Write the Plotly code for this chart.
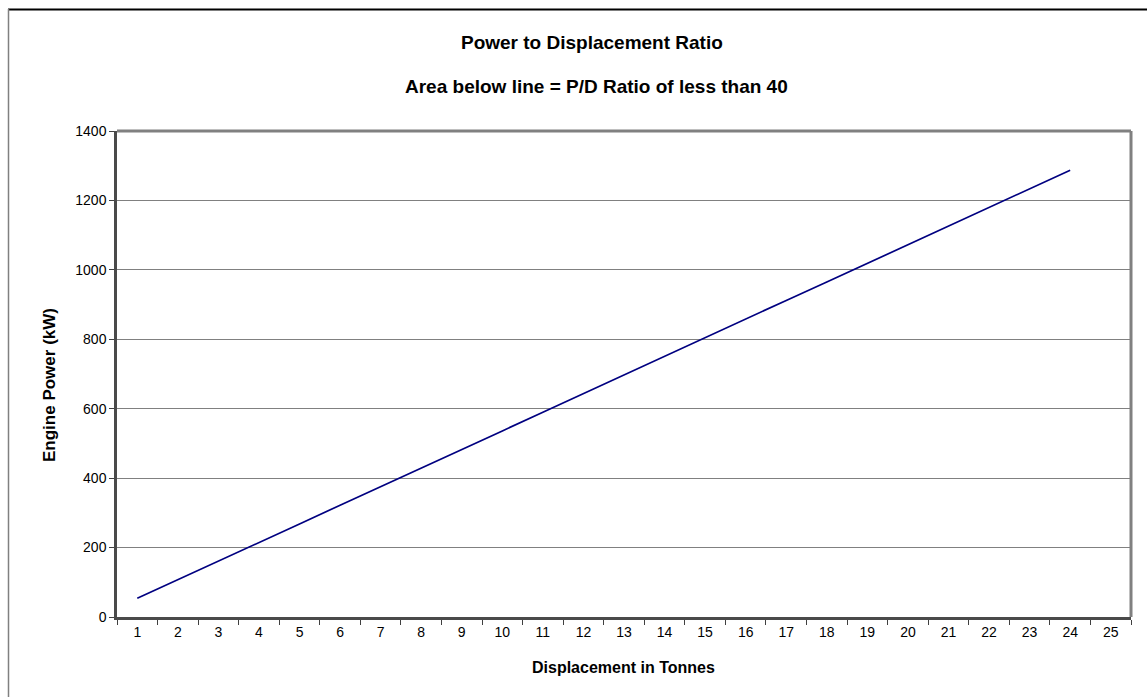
import plotly.graph_objects as go

categories = [str(i) for i in range(1, 26)]
displacement = [str(i) for i in range(1, 25)]
power_kw = [54, 107, 161, 215, 268, 322, 375, 429, 483, 536, 590, 644,
            697, 751, 805, 858, 912, 965, 1019, 1073, 1126, 1180, 1234, 1287]
y_ticks = [0, 200, 400, 600, 800, 1000, 1200, 1400]

OFF = 0  # body margin removed by post_script below
W, H = 1147, 697
# plot area in window pixels
PL, PR, PT, PB = 117, 1131, 131, 617
L, R, T, B = PL - OFF, W - (PR - OFF), PT - OFF, H - (PB - OFF)
pw, ph = W - L - R, H - T - B

def px(x):  # window px -> paper
    return (x - OFF - L) / pw

def py(y):
    return (H - B - (y - OFF)) / ph

FONT = "Liberation Sans, Arial, sans-serif"

fig = go.Figure()
fig.add_trace(go.Scatter(x=displacement, y=power_kw, mode="lines",
                         line=dict(color="#000080", width=1.7),
                         hoverinfo="x+y", showlegend=False))

fig.update_layout(
    width=W, height=H,
    margin=dict(l=L, r=R, t=T, b=B),
    paper_bgcolor="white", plot_bgcolor="white",
    font=dict(family=FONT, size=14, color="black"),
    xaxis=dict(type="category", categoryorder="array", categoryarray=categories,
               range=[-0.5, 24.5], tickson="boundaries", ticks="outside",
               ticklen=5, tickwidth=1, tickcolor="#404040",
               showline=True, linecolor="#4a4a4a", linewidth=2.5,
               showgrid=False, zeroline=False,
               tickfont=dict(size=14, family=FONT)),
    yaxis=dict(range=[0, 1400], tickvals=y_ticks, ticks="outside",
               ticklen=5, tickwidth=1, tickcolor="#404040",
               showline=True, linecolor="#4a4a4a", linewidth=2.5,
               showgrid=True, gridcolor="#808080", gridwidth=1,
               zeroline=False, tickfont=dict(size=14, family=FONT)),
    shapes=[
        dict(type="line", xref="paper", yref="paper", x0=0, x1=1, y0=1, y1=1,
             line=dict(color="#808080", width=3)),
        dict(type="line", xref="paper", yref="paper", x0=1, x1=1, y0=0, y1=1,
             line=dict(color="#808080", width=3)),
        dict(type="line", xref="paper", yref="paper", x0=px(8), x1=px(1160),
             y0=py(9.5), y1=py(9.5), line=dict(color="black", width=2)),
        dict(type="line", xref="paper", yref="paper", x0=px(8.5), x1=px(8.5),
             y0=py(9), y1=py(720), line=dict(color="#808080", width=1.5)),
    ],
    annotations=[
        dict(text="<b>Power to Displacement Ratio</b>", xref="paper", yref="paper",
             x=px(592), y=py(42), xanchor="center", yanchor="middle",
             showarrow=False, font=dict(size=19, family=FONT)),
        dict(text="<b>Area below line = P/D Ratio of less than 40</b>", xref="paper",
             yref="paper", x=px(596), y=py(87), xanchor="center", yanchor="middle",
             showarrow=False, font=dict(size=19, family=FONT)),
        dict(text="<b>Displacement in Tonnes</b>", xref="paper", yref="paper",
             x=px(623), y=py(667), xanchor="center", yanchor="middle",
             showarrow=False, font=dict(size=16, family=FONT)),
        dict(text="<b>Engine Power (kW)</b>", xref="paper", yref="paper",
             x=px(49), y=py(385), xanchor="center", yanchor="middle",
             textangle=-90, showarrow=False, font=dict(size=17, family=FONT)),
    ],
)

fig.write_html("out.html", config={"displayModeBar": False},
               post_script="document.body.style.margin='0';"
                           "document.body.style.overflow='hidden';")
